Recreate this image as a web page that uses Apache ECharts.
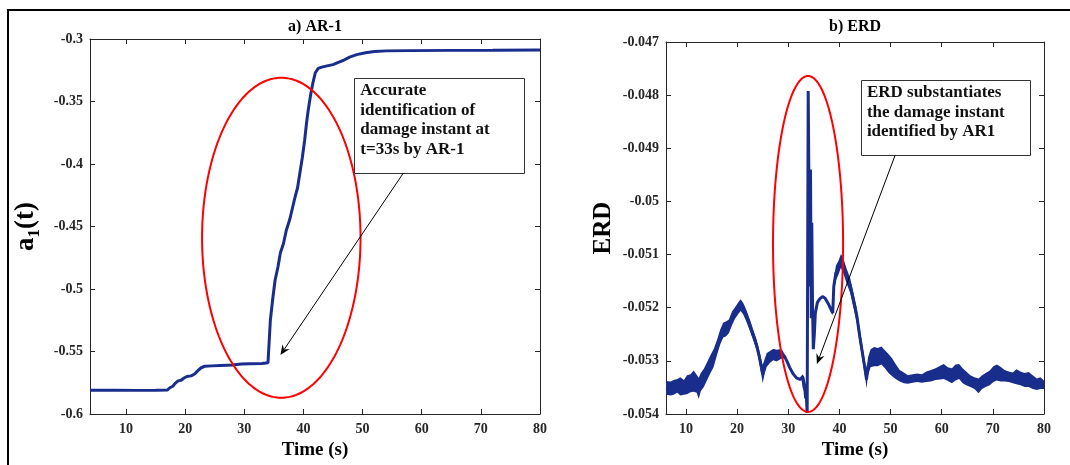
<!DOCTYPE html>
<html>
<head>
<meta charset="utf-8">
<script src="https://cdn.jsdelivr.net/npm/echarts@6/dist/echarts.min.js"></script>
<style>
  html, body { margin: 0; padding: 0; background: #fff; }
  #chart { width: 1070px; height: 465px; }
</style>
</head>
<body>
<div id="chart"></div>
<script>
// ---- a) AR-1 coefficient a1(t) ----
const arTime = [3.9, 8.0, 12.0, 15.0, 17.0, 17.4, 17.9, 18.3, 18.8, 19.3,
  19.8, 20.3, 21.0, 21.6, 22.1, 22.7, 23.3, 24.5, 26.0, 28.0,
  29.5, 31.0, 33.0, 34.0, 34.2, 34.4, 34.8, 35.2, 35.7, 36.1,
  36.6, 37.1, 37.7, 38.2, 38.6, 39.0, 39.4, 39.8, 40.2, 40.5,
  40.8, 41.2, 41.6, 42.0, 42.5, 43.1, 44.0, 45.0, 46.0, 46.8,
  47.8, 49.0, 50.5, 52.0, 54.0, 58.0, 65.0, 72.0, 80.0];
const arValue = [-0.5810, -0.5810, -0.5811, -0.5810, -0.5808, -0.5790, -0.5778, -0.5755, -0.5735, -0.5730,
  -0.5712, -0.5700, -0.5695, -0.5680, -0.5655, -0.5630, -0.5618, -0.5615, -0.5612, -0.5608,
  -0.5600, -0.5598, -0.5596, -0.5590, -0.5420, -0.5250, -0.5080, -0.4930, -0.4820, -0.4710,
  -0.4640, -0.4530, -0.4440, -0.4340, -0.4260, -0.4190, -0.4070, -0.3950, -0.3810, -0.3680,
  -0.3570, -0.3450, -0.3350, -0.3270, -0.3235, -0.3225, -0.3215, -0.3205, -0.3185, -0.3170,
  -0.3145, -0.3125, -0.3110, -0.3100, -0.3095, -0.3093, -0.3091, -0.3090, -0.3088];

// ---- b) ERD: centre trace and half-width of its noise band ----
const erdTime = [6.1, 7.0, 7.6, 8.3, 8.9, 9.6, 10.2, 10.9, 11.5, 12.1,
  12.5, 12.9, 13.5, 14.1, 14.8, 15.4, 16.1, 16.7, 17.3, 17.8,
  18.4, 19.0, 19.6, 20.3, 20.7, 21.2, 21.8, 22.5, 23.1, 23.8,
  24.3, 24.7, 25.0, 25.4, 25.8, 26.5, 27.1, 27.7, 28.3, 28.8,
  29.3, 29.8, 30.4, 31.0, 31.6, 32.3, 32.8, 33.1, 33.5, 33.7,
  33.9, 34.1, 34.2, 34.35, 34.5, 34.6, 34.75, 34.9, 35.1, 35.3,
  35.7, 36.2, 36.7, 37.2, 37.8, 38.3, 38.7, 38.9, 39.3, 39.8,
  40.3, 40.8, 41.4, 42.1, 42.8, 43.4, 44.0, 44.5, 45.0, 45.3,
  45.6, 46.1, 46.8, 47.5, 48.2, 48.9, 49.6, 50.3, 51.0, 51.8,
  52.6, 53.4, 54.3, 55.2, 56.1, 57.0, 57.9, 58.8, 59.7, 60.4,
  61.2, 62.0, 62.7, 63.4, 64.1, 64.8, 65.6, 66.4, 67.2, 67.9,
  68.6, 69.4, 70.1, 70.8, 71.5, 72.3, 73.1, 73.9, 74.6, 75.4,
  76.2, 77.0, 77.8, 78.6, 79.3, 80.0];
const erdValue = [-0.05351, -0.05352, -0.05350, -0.05347, -0.05348, -0.05350, -0.05345, -0.05342, -0.05338, -0.05343,
  -0.05352, -0.05340, -0.05332, -0.05320, -0.05306, -0.05295, -0.05274, -0.05255, -0.05242, -0.05240,
  -0.05235, -0.05220, -0.05210, -0.05200, -0.05195, -0.05202, -0.05215, -0.05233, -0.05250, -0.05270,
  -0.05290, -0.05310, -0.05325, -0.05310, -0.05298, -0.05292, -0.05288, -0.05290, -0.05288, -0.05287,
  -0.05292, -0.05302, -0.05315, -0.05325, -0.05332, -0.05335, -0.05330, -0.05350, -0.05360, -0.05398,
  -0.04792, -0.04792, -0.05160, -0.04940, -0.05220, -0.05040, -0.05200, -0.05278, -0.05250, -0.05210,
  -0.05190, -0.05183, -0.05179, -0.05182, -0.05192, -0.05202, -0.05210, -0.05160, -0.05135, -0.05125,
  -0.05112, -0.05122, -0.05140, -0.05158, -0.05188, -0.05215, -0.05255, -0.05285, -0.05315, -0.05335,
  -0.05310, -0.05295, -0.05292, -0.05293, -0.05290, -0.05297, -0.05305, -0.05312, -0.05320, -0.05328,
  -0.05332, -0.05335, -0.05333, -0.05332, -0.05333, -0.05330, -0.05328, -0.05325, -0.05322, -0.05320,
  -0.05325, -0.05328, -0.05322, -0.05320, -0.05328, -0.05333, -0.05338, -0.05342, -0.05347, -0.05340,
  -0.05336, -0.05332, -0.05325, -0.05322, -0.05325, -0.05328, -0.05330, -0.05332, -0.05330, -0.05333,
  -0.05336, -0.05335, -0.05340, -0.05344, -0.05342, -0.05345];
const erdNoise = [0.00013, 0.00013, 0.00014, 0.00013, 0.00017, 0.00014, 0.00018, 0.00017, 0.00020, 0.00017,
  0.00020, 0.00017, 0.00017, 0.00017, 0.00017, 0.00017, 0.00014, 0.00014, 0.00014, 0.00014,
  0.00013, 0.00013, 0.00011, 0.00011, 0.00011, 0.00011, 0.00011, 0.00011, 0.00010, 0.00010,
  0.00011, 0.00014, 0.00017, 0.00014, 0.00013, 0.00011, 0.00011, 0.00011, 0.00010, 0.00008,
  0.00004, 0.00002, 0.00002, 0.00002, 0.00002, 0.00002, 0.00005, 0.00020, 0.00014, 0,
  0, 0, 0, 0, 0, 0, 0, 0, 0, 0,
  0, 0, 0, 0, 0, 0.00002, 0.00005, 0.00011, 0.00014, 0.00013,
  0.00013, 0.00014, 0.00014, 0.00014, 0.00014, 0.00014, 0.00014, 0.00014, 0.00014, 0.00017,
  0.00017, 0.00017, 0.00018, 0.00017, 0.00017, 0.00017, 0.00018, 0.00017, 0.00014, 0.00011,
  0.00010, 0.00008, 0.00008, 0.00008, 0.00008, 0.00010, 0.00011, 0.00011, 0.00013, 0.00014,
  0.00013, 0.00014, 0.00015, 0.00014, 0.00014, 0.00013, 0.00011, 0.00011, 0.00014, 0.00013,
  0.00013, 0.00014, 0.00015, 0.00015, 0.00014, 0.00011, 0.00010, 0.00010, 0.00014, 0.00013,
  0.00013, 0.00014, 0.00013, 0.00011, 0.00011, 0.00008];

// ---- tick positions ----
const timeTicks = [10, 20, 30, 40, 50, 60, 70, 80];
const arTicks = [-0.6, -0.55, -0.5, -0.45, -0.4, -0.35, -0.3];
const erdTicks = [-0.054, -0.053, -0.052, -0.051, -0.05, -0.049, -0.048, -0.047];

// ---- highlighted regions and callouts ----
const arRegion = { cx: 36.25, cy: -0.459, rx: 13.4, ry: 0.128 };
const erdRegion = { cx: 33.87, cy: -0.0508, rx: 6.85, ry: 0.00316 };
const arNote = {
  lines: ['Accurate', 'identification of', 'damage instant at', 't=33s by AR-1'],
  box: [48.6, -0.3312, 77.4, -0.4072],
  from: [56.9, -0.4072], to: [36.1, -0.5528]
};
const erdNote = {
  lines: ['ERD substantiates', 'the damage instant', 'identified by AR1'],
  box: [44.2, -0.04772, 77.3, -0.04913],
  from: [50.9, -0.04913], to: [35.6, -0.05306]
};

const SERIF = '"Liberation Serif", "Times New Roman", serif';
const INK = '#262626';
const TRACE = '#192d8c';
const fmt = v => String(+v.toFixed(4));

function xAxisPair(grid, min) {
  const base = {
    type: 'value', gridIndex: grid, min: min, max: 80,
    axisLine: { onZero: false, lineStyle: { color: INK, width: 1 } },
    axisTick: { inside: true, length: 5, customValues: timeTicks, lineStyle: { color: INK } },
    splitLine: { show: false }
  };
  return [
    Object.assign({}, base, {
      position: 'bottom',
      axisLabel: { customValues: timeTicks, margin: 8, color: INK, fontFamily: SERIF, fontWeight: 'bold', fontSize: 14 },
      name: 'Time (s)', nameLocation: 'middle', nameGap: 27,
      nameTextStyle: { color: '#000', fontFamily: SERIF, fontWeight: 'bold', fontSize: 19 }
    }),
    Object.assign({}, base, { position: 'top', axisLabel: { show: false } })
  ];
}

function yAxisPair(grid, ticks, name) {
  const base = {
    type: 'value', gridIndex: grid, min: ticks[0], max: ticks[ticks.length - 1],
    interval: ticks[1] - ticks[0],
    axisLine: { show: true, onZero: false, lineStyle: { color: INK, width: 1 } },
    axisTick: { show: true, inside: true, length: 5, lineStyle: { color: INK } },
    splitLine: { show: false }
  };
  return [
    Object.assign({}, base, {
      position: 'left',
      axisLabel: { margin: 7, color: INK, fontFamily: SERIF, fontWeight: 'bold', fontSize: 14, formatter: fmt },
      name: name.text, nameLocation: 'middle', nameGap: name.gap,
      nameTextStyle: name.style
    }),
    Object.assign({}, base, { position: 'right', axisLabel: { show: false } })
  ];
}

function ellipseSeries(xi, yi, r) {
  return {
    type: 'custom', xAxisIndex: xi, yAxisIndex: yi, silent: true, z: 5,
    data: [[r.cx, r.cy]],
    renderItem: (params, api) => {
      const c = api.coord([r.cx, r.cy]);
      const e = api.coord([r.cx + r.rx, r.cy + r.ry]);
      const a = Math.abs(e[0] - c[0]), b = Math.abs(e[1] - c[1]);
      const pts = [];
      for (let k = 0; k <= 180; k++) {
        const t = (k / 180) * Math.PI * 2;
        pts.push([c[0] + a * Math.cos(t), c[1] + b * Math.sin(t)]);
      }
      return { type: 'polyline', shape: { points: pts }, style: { fill: null, stroke: '#ff0000', lineWidth: 2 } };
    }
  };
}

function noteSeries(xi, yi, note) {
  return {
    type: 'custom', xAxisIndex: xi, yAxisIndex: yi, silent: true, z: 6,
    data: [note.from],
    renderItem: (params, api) => {
      const p0 = api.coord([note.box[0], note.box[1]]);
      const p1 = api.coord([note.box[2], note.box[3]]);
      const a0 = api.coord(note.from), a1 = api.coord(note.to);
      const dx = a1[0] - a0[0], dy = a1[1] - a0[1];
      const len = Math.hypot(dx, dy), ux = dx / len, uy = dy / len;
      const head = 11, spread = 0.4;
      const wing = s => [
        a1[0] - head * (ux * Math.cos(s) - uy * Math.sin(s)),
        a1[1] - head * (uy * Math.cos(s) + ux * Math.sin(s))
      ];
      const notch = [a1[0] - head * 0.6 * ux, a1[1] - head * 0.6 * uy];
      return {
        type: 'group',
        children: [
          { type: 'rect', shape: { x: Math.round(p0[0]) + 0.5, y: Math.round(p0[1]) + 0.5, width: Math.round(p1[0] - p0[0]), height: Math.round(p1[1] - p0[1]) },
            style: { fill: '#fff', stroke: '#333', lineWidth: 1 } },
          { type: 'text', style: { x: p0[0] + 6, y: p0[1] + 3, text: note.lines.join('\n'),
            font: 'bold 17px ' + SERIF, fill: '#111', lineHeight: 19.5, align: 'left', verticalAlign: 'top' } },
          { type: 'line', shape: { x1: a0[0], y1: a0[1], x2: notch[0], y2: notch[1] }, style: { stroke: '#000', lineWidth: 1 } },
          { type: 'polygon', shape: { points: [a1, wing(spread), notch, wing(-spread)] }, style: { fill: '#000' } }
        ]
      };
    }
  };
}

const chart = echarts.init(document.getElementById('chart'), null, { renderer: 'canvas' });

chart.setOption({
  animation: false,
  backgroundColor: '#fff',
  graphic: [
    { type: 'rect', shape: { x: 8, y: 10, width: 1200, height: 600 }, style: { fill: null, stroke: '#000', lineWidth: 2 }, silent: true, z: -1 },
    { type: 'text', x: 315, y: 27, style: { text: 'a) AR-1', font: 'bold 16px ' + SERIF, fill: '#000', align: 'center', verticalAlign: 'middle' } },
    { type: 'text', x: 855, y: 27, style: { text: 'b) ERD', font: 'bold 16px ' + SERIF, fill: '#000', align: 'center', verticalAlign: 'middle' } }
  ],
  grid: [
    { left: 90, top: 39, width: 450, height: 375 },
    { left: 666, top: 42, width: 378, height: 381 }
  ],
  xAxis: [].concat(xAxisPair(0, 3.9), xAxisPair(1, 6.1)),
  yAxis: [].concat(
    yAxisPair(0, arTicks, {
      text: '{a|a}{s|1}{a|(t)}', gap: 47,
      style: {
        color: '#000', fontFamily: SERIF, fontWeight: 'bold', fontSize: 27,
        rich: {
          a: { color: '#000', fontFamily: SERIF, fontWeight: 'bold', fontSize: 27 },
          s: { color: '#000', fontFamily: SERIF, fontWeight: 'bold', fontSize: 17, padding: [16, 0, 0, 0] }
        }
      }
    }),
    yAxisPair(1, erdTicks, {
      text: 'ERD', gap: 50,
      style: { color: '#000', fontFamily: SERIF, fontWeight: 'bold', fontSize: 25 }
    })
  ),
  series: [
    {
      type: 'line', xAxisIndex: 0, yAxisIndex: 0, silent: true, showSymbol: false,
      data: arTime.map((t, i) => [t, arValue[i]]),
      lineStyle: { color: TRACE, width: 3 }, itemStyle: { color: TRACE }
    },
    {
      // noise envelope around the ERD trace
      type: 'custom', xAxisIndex: 2, yAxisIndex: 2, silent: true, z: 2,
      data: [[erdTime[0], erdValue[0]]],
      renderItem: (params, api) => {
        const upper = erdTime.map((t, i) => api.coord([t, erdValue[i] + erdNoise[i]]));
        const lower = erdTime.map((t, i) => api.coord([t, erdValue[i] - erdNoise[i]])).reverse();
        return { type: 'polygon', shape: { points: upper.concat(lower) }, style: { fill: TRACE } };
      }
    },
    {
      type: 'line', xAxisIndex: 2, yAxisIndex: 2, silent: true, showSymbol: false, z: 3,
      data: erdTime.map((t, i) => [t, erdValue[i]]),
      lineStyle: { color: TRACE, width: 3 }, itemStyle: { color: TRACE }
    },
    ellipseSeries(0, 0, arRegion),
    ellipseSeries(2, 2, erdRegion),
    noteSeries(0, 0, arNote),
    noteSeries(2, 2, erdNote)
  ]
});
</script>
</body>
</html>
